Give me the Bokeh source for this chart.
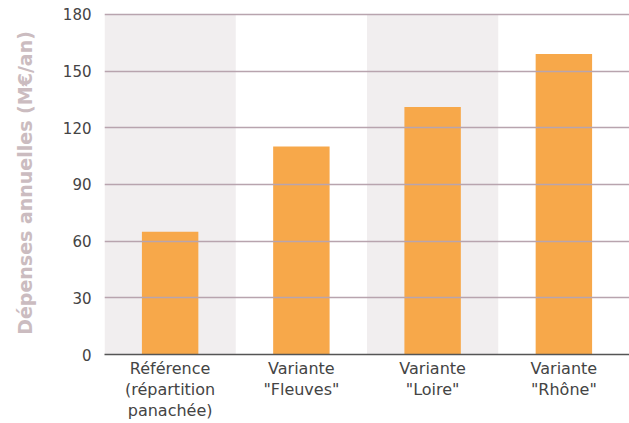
from bokeh.plotting import figure
from bokeh.models import FixedTicker, Range1d
from bokeh.embed import file_html
from bokeh.resources import INLINE

categories = ["Référence\n(répartition\npanachée)", "Variante\n\"Fleuves\"", "Variante\n\"Loire\"", "Variante\n\"Rhône\""]
values = [65, 110, 131, 159]
y_ticks = [0, 30, 60, 90, 120, 150, 180]
y_title = "Dépenses annuelles (M€/an)"

FONT = "DejaVu Sans"

p = figure(width=629, height=423, x_range=categories, y_range=Range1d(0, 181.5),
           output_backend="svg", toolbar_location=None,
           min_border_left=104, min_border_right=0, min_border_top=11, min_border_bottom=64)
p.outline_line_color = None
p.background_fill_color = "white"

# alternating bands
band_cats = [c for i, c in enumerate(categories) if i % 2 == 0]
p.vbar(x=band_cats, top=[180] * len(band_cats), bottom=0, width=1.0,
       fill_color="#f1eeef", line_color=None, level="underlay")

p.vbar(x=categories, top=values, width=0.43, fill_color="#f7a84a", line_color=None)

p.xgrid.grid_line_color = None
p.ygrid.grid_line_color = "#b8a4ae"
p.ygrid.grid_line_width = 1.5
p.ygrid.ticker = FixedTicker(ticks=y_ticks[1:])
p.ygrid.level = "glyph"

p.yaxis.ticker = FixedTicker(ticks=y_ticks)
p.yaxis.axis_line_color = None
p.yaxis.major_tick_line_color = None
p.yaxis.major_tick_out = 0
p.yaxis.minor_tick_line_color = None
p.yaxis.major_label_text_font = FONT
p.yaxis.major_label_text_font_size = "15px"
p.yaxis.major_label_text_color = "#444444"
p.yaxis.major_label_standoff = 13
p.yaxis.axis_label = y_title
p.yaxis.axis_label_text_font = FONT
p.yaxis.axis_label_text_font_size = "19px"
p.yaxis.axis_label_text_font_style = "bold"
p.yaxis.axis_label_text_color = "#cbbcc0"
p.yaxis.axis_label_standoff = 24

p.xaxis.axis_line_color = "#555555"
p.xaxis.axis_line_width = 1.5
p.xaxis.major_tick_line_color = None
p.xaxis.major_tick_out = 0
p.xaxis.minor_tick_line_color = None
p.xaxis.major_label_text_font = FONT
p.xaxis.major_label_text_font_size = "16px"
p.xaxis.major_label_text_line_height = 1.12
p.xaxis.major_label_text_color = "#444444"
p.xaxis.major_label_standoff = 4

open("out.html", "w").write(file_html(p, INLINE))
